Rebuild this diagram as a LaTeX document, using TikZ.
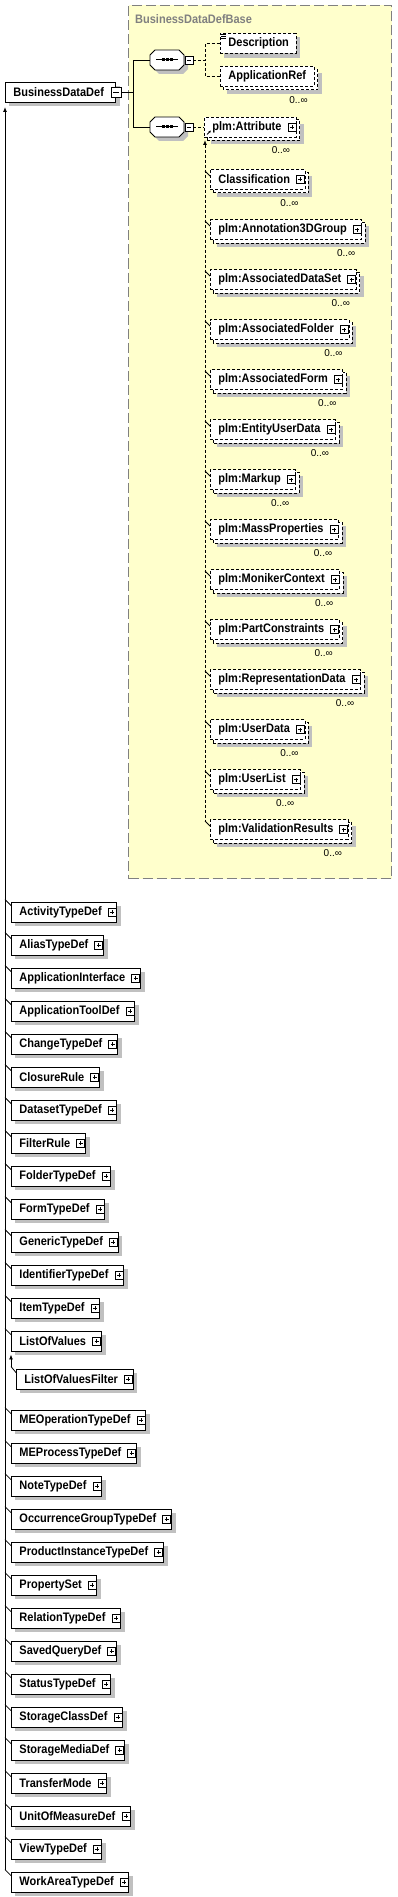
\documentclass[tikz,border=0pt]{standalone}
\usepackage{fontspec}
\setmainfont{Liberation Sans}
\usetikzlibrary{arrows.meta,calc}
\definecolor{ylw}{HTML}{FFFFCC}
\definecolor{shgray}{HTML}{C0C0C0}
\definecolor{framegray}{HTML}{808080}
\pgfdeclarelayer{lzero}
\pgfdeclarelayer{lone}
\pgfdeclarelayer{ltwo}
\pgfsetlayers{lzero,lone,ltwo,main}
\newcommand{\tallt}[1]{\scalebox{1}[1.12]{#1}}
\newcommand{\mytxt}[1]{\hspace*{8pt}\tallt{#1}\hspace*{15pt}}
\newcommand{\shad}[2]{\begin{pgfonlayer}{lone}\fill[shgray] ($(#1.south west)+(#2,#2)$) rectangle ($(#1.north east)+(#2,#2)$);\end{pgfonlayer}}
\newcommand{\stk}[1]{\begin{pgfonlayer}{ltwo}\draw[stackbox] ($(#1.south west)+(3,3)$) rectangle ($(#1.north east)+(3,3)$);\end{pgfonlayer}}
\newcommand{\plussq}[1]{%
  \draw[sqline,fill=white] ([xshift=-9pt,yshift=-4pt]#1.east) rectangle ([xshift=-1pt,yshift=4pt]#1.east);
  \draw[sqline] ([xshift=-7pt]#1.east) -- ([xshift=-3pt]#1.east)
                ([xshift=-5pt,yshift=-2pt]#1.east) -- ([xshift=-5pt,yshift=2pt]#1.east);}
\newcommand{\card}[1]{\node[card] (#1c) at ([xshift=-16pt,yshift=-13pt]#1.south east) {0..∞};}
\newcommand{\seqoct}[1]{%
  \begin{scope}[shift={(#1.center)}]
    \fill[shgray] (-8,-6) -- (16,-6) -- (21,-1) -- (21,9) -- (16,14) -- (-8,14) -- (-13,9) -- (-13,-1) -- cycle;
    \draw[ln,fill=white] (-12,-10) -- (12,-10) -- (17,-5) -- (17,5) -- (12,10) -- (-12,10) -- (-17,5) -- (-17,-5) -- cycle;
    \draw[line width=1pt] (-11,0) -- (11,0);
    \fill (-5.5,-1.5) rectangle (-2.5,1.5);
    \fill (-1.5,-1.5) rectangle (1.5,1.5);
    \fill (2.5,-1.5) rectangle (5.5,1.5);
    \draw[sqline,fill=white] (18,-4) rectangle (26,4);
    \draw[sqline] (20,0) -- (24,0);
  \end{scope}}
\begin{document}
\begin{tikzpicture}[x=1pt,y=-1pt,
  ln/.style={line width=0.9pt},
  sqline/.style={line width=0.7pt},
  box/.style={draw, fill=white, line width=0.9pt, anchor=west, minimum height=20pt,
    inner xsep=0pt, inner ysep=0pt, font=\fontsize{11}{13}\selectfont\bfseries},
  solidbox/.style={box},
  optbox/.style={box, dash pattern=on 3pt off 2pt},
  stackbox/.style={draw, fill=white, line width=0.9pt, dash pattern=on 3pt off 2pt},
  card/.style={inner sep=0pt, font=\fontsize{10}{12}\selectfont},
  dconn/.style={line width=0.9pt, dash pattern=on 3pt off 2pt},
  conn/.style={line width=0.9pt},
  tick/.style={line width=0.8pt},
  tip/.style={{Latex[length=5pt,width=4pt]}-}
]
\useasboundingbox (0,0) rectangle (397,1897);

% base type container
\begin{pgfonlayer}{lzero}
\node[draw=framegray, fill=ylw, line width=1pt, dash pattern=on 10pt off 4pt,
  anchor=north west, minimum width=263pt, minimum height=873pt, inner sep=0pt] (base) at (128,5) {};
\end{pgfonlayer}
\node[anchor=west, inner sep=0pt, text=framegray, font=\fontsize{11}{13}\selectfont\bfseries] (basettl) at (135,19) {\tallt{BusinessDataDefBase}};

% root element
\node[solidbox] (bdd) at (5,92) {\hspace*{8pt}\tallt{BusinessDataDef}\hspace*{12pt}};
\shad{bdd}{4}
\draw[sqline,fill=white] ([xshift=-5pt,yshift=-5pt]bdd.east) rectangle ([xshift=5pt,yshift=5pt]bdd.east);
\draw[sqline] ([xshift=-3pt]bdd.east) -- ([xshift=3pt]bdd.east);

% sequences
\node[inner sep=0pt, minimum width=34pt, minimum height=20pt] (s1) at (167,60) {};
\node[inner sep=0pt, minimum width=34pt, minimum height=20pt] (s2) at (167,127) {};
\seqoct{s1}
\seqoct{s2}
\draw[conn] ([xshift=5pt]bdd.east) -- ++(12,0) |- (s1.west);
\draw[conn] ([xshift=5pt]bdd.east) -- ++(12,0) |- (s2.west);

% first sequence children
\node[optbox] (desc) at (220,43.5) {\hspace*{8pt}\tallt{Description}\hspace*{7pt}};
\shad{desc}{4}
\node[optbox] (aref) at (220,76.5) {\hspace*{8pt}\tallt{ApplicationRef}\hspace*{8pt}};
\stk{aref}\shad{aref}{7}
\card{aref}
\draw[sqline] ([xshift=1pt,yshift=-1.5pt]desc.north west) -- ++(5,0)
              ([xshift=1pt,yshift=-3.5pt]desc.north west) -- ++(5,0)
              ([xshift=1pt,yshift=-5.5pt]desc.north west) -- ++(5,0);
\draw[dconn] ([xshift=9pt]s1.east) -- ++(12,0) |- (desc.west);
\draw[dconn] ([xshift=9pt]s1.east) -- ++(12,0) |- (aref.west);

% second sequence child
\node[optbox] (attr) at (204,127) {\mytxt{plm:Attribute}};
\stk{attr}\shad{attr}{7}
\plussq{attr}
\card{attr}
\draw[line width=0.8pt,-{Latex[length=2.5pt,width=2.5pt]}] ([xshift=3pt,yshift=3pt]attr.south west) -- ++(4,-4);
\draw[dconn] ([xshift=9pt]s2.east) -- (attr.west);

% substitution group of plm:Attribute
\coordinate (attrtip) at (205,140);
\foreach \n/\t/\y in {cls/Classification/179.5, ann/plm:Annotation3DGroup/229.5,
  ads/plm:AssociatedDataSet/279.5, afo/plm:AssociatedFolder/329.5, afm/plm:AssociatedForm/379.5,
  eud/plm:EntityUserData/429.5, mrk/plm:Markup/479.5, mpr/plm:MassProperties/529.5,
  mon/plm:MonikerContext/579.5, pcn/plm:PartConstraints/629.5, rep/plm:RepresentationData/679.5,
  usd/plm:UserData/729.5, usl/plm:UserList/779.5, val/plm:ValidationResults/829.5}{
  \node[optbox] (\n) at (210,\y) {\mytxt{\t}};
  \stk{\n}\shad{\n}{7}
  \plussq{\n}
  \card{\n}
  \draw[tick] ($(\n.north west -| attrtip)+(0,2)$) -- ([yshift=-7pt]\n.north west);
}
\draw[dconn,tip] (attrtip) -- ($(attrtip |- val.north)+(0,2)$);

% substitution group of BusinessDataDef
\coordinate (bddtip) at (5,107);
\foreach \n/\t [count=\i from 0] in {act/ActivityTypeDef, ali/AliasTypeDef,
  api/ApplicationInterface, atd/ApplicationToolDef, chg/ChangeTypeDef, clo/ClosureRule,
  dst/DatasetTypeDef, flt/FilterRule, fol/FolderTypeDef, frm/FormTypeDef, gen/GenericTypeDef,
  idt/IdentifierTypeDef, itm/ItemTypeDef, lov/ListOfValues}{
  \node[solidbox] (\n) at (11,912+33*\i) {\mytxt{\t}};
  \shad{\n}{4}
  \plussq{\n}
  \draw[tick] ($(\n.north west -| bddtip)+(0,-2)$) -- ([yshift=-4pt]\n.north west);
}
\foreach \n/\t [count=\i from 0] in {meo/MEOperationTypeDef, mep/MEProcessTypeDef,
  not/NoteTypeDef, ocg/OccurrenceGroupTypeDef, pit/ProductInstanceTypeDef, pst/PropertySet,
  rel/RelationTypeDef, sqd/SavedQueryDef, sta/StatusTypeDef, scd/StorageClassDef,
  smd/StorageMediaDef, trm/TransferMode, uom/UnitOfMeasureDef, vtd/ViewTypeDef, wat/WorkAreaTypeDef}{
  \node[solidbox] (\n) at (11,1420+33*\i) {\mytxt{\t}};
  \shad{\n}{4}
  \plussq{\n}
  \draw[tick] ($(\n.north west -| bddtip)+(0,-2)$) -- ([yshift=-4pt]\n.north west);
}
\draw[conn,tip] (bddtip) -- ($(bddtip |- wat.north)+(0,-2)$);

% substitution group of ListOfValues
\node[solidbox] (lovf) at (16,1379) {\mytxt{ListOfValuesFilter}};
\shad{lovf}{4}
\plussq{lovf}
\coordinate (lovtip) at ($(lov.south west)+(0,3)$);
\draw[conn,tip] (lovtip) -- ($(lovtip |- lovf.north)+(0,-2)$);
\draw[tick] ($(lovf.north west -| lovtip)+(0,-2)$) -- ([yshift=-4pt]lovf.north west);
\end{tikzpicture}
\end{document}
